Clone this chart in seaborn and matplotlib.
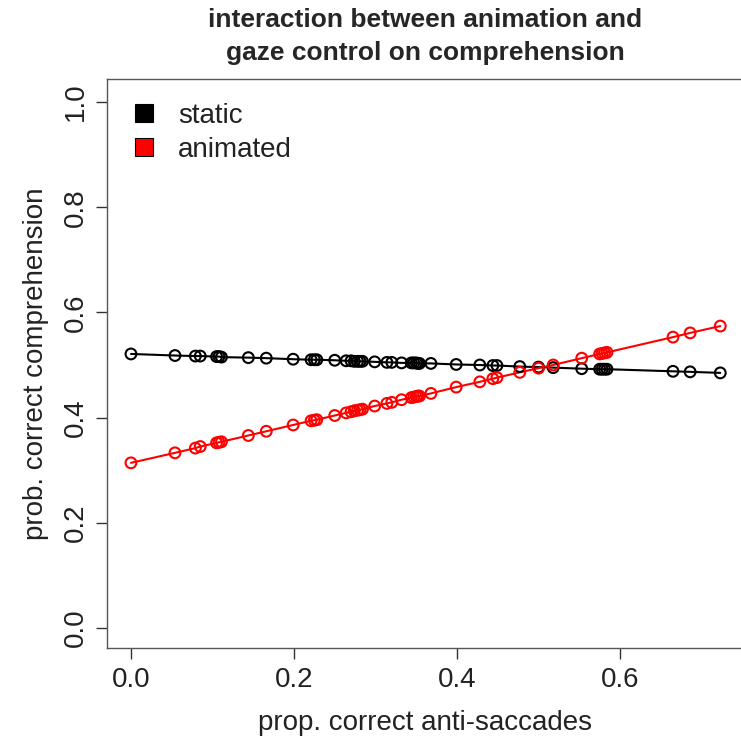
import matplotlib
matplotlib.use("Agg")
import matplotlib.pyplot as plt
from matplotlib.lines import Line2D
import seaborn as sns
import pandas as pd

# Data
anti_saccades = [0.0, 0.054, 0.079, 0.085, 0.105, 0.108, 0.111, 0.144, 0.166, 0.199,
                 0.221, 0.225, 0.228, 0.250, 0.264, 0.270, 0.274, 0.278, 0.281, 0.284,
                 0.299, 0.314, 0.320, 0.332, 0.344, 0.347, 0.350, 0.352, 0.354, 0.368,
                 0.399, 0.428, 0.444, 0.449, 0.477, 0.500, 0.518, 0.553, 0.575, 0.578,
                 0.581, 0.584, 0.665, 0.686, 0.723]
static_comp = [0.521, 0.518, 0.517, 0.517, 0.516, 0.516, 0.515, 0.514, 0.513, 0.511,
               0.510, 0.510, 0.510, 0.509, 0.508, 0.508, 0.507, 0.507, 0.507, 0.507,
               0.506, 0.505, 0.505, 0.504, 0.504, 0.504, 0.504, 0.503, 0.503, 0.503,
               0.501, 0.500, 0.499, 0.499, 0.497, 0.496, 0.495, 0.493, 0.492, 0.492,
               0.492, 0.492, 0.488, 0.487, 0.485]
animated_comp = [0.314, 0.333, 0.342, 0.345, 0.352, 0.353, 0.354, 0.366, 0.374, 0.386,
                 0.394, 0.395, 0.396, 0.404, 0.409, 0.411, 0.413, 0.414, 0.415, 0.416,
                 0.422, 0.427, 0.429, 0.434, 0.438, 0.439, 0.440, 0.441, 0.441, 0.446,
                 0.458, 0.468, 0.474, 0.476, 0.486, 0.494, 0.500, 0.513, 0.521, 0.522,
                 0.523, 0.524, 0.553, 0.561, 0.574]
conditions = ["static", "animated"]
colors = {"static": "black", "animated": "red"}
x_ticks = [0.0, 0.2, 0.4, 0.6]
y_ticks = [0.0, 0.2, 0.4, 0.6, 0.8, 1.0]

df = pd.concat([
    pd.DataFrame({"x": anti_saccades, "y": static_comp, "cond": "static"}),
    pd.DataFrame({"x": anti_saccades, "y": animated_comp, "cond": "animated"}),
], ignore_index=True)

sns.set_style("white")
plt.rcParams["font.family"] = ["Liberation Sans", "DejaVu Sans"]

W, H = 741, 738
fig = plt.figure(figsize=(W / 100, H / 100), dpi=100)
ax_left, ax_right, ax_top, ax_bottom = 107, 744, 79, 648
ax = fig.add_axes([ax_left / W, (H - ax_bottom) / H, (ax_right - ax_left) / W, (ax_bottom - ax_top) / H])

for c in conditions:
    sub = df[df["cond"] == c]
    sns.lineplot(data=sub, x="x", y="y", ax=ax, color=colors[c], lw=1.5,
                 estimator=None, sort=True, legend=False)
    sns.scatterplot(data=sub, x="x", y="y", ax=ax, facecolors="none",
                    edgecolor=colors[c], linewidth=1.5, s=60, legend=False, zorder=3)

ax.set_xlim(-0.0294, 0.7521)
ax.set_ylim(-0.038, 1.0437)
ax.set_xticks(x_ticks)
ax.set_xticklabels([f"{t:.1f}" for t in x_ticks])
ax.set_yticks(y_ticks)
ax.set_yticklabels([f"{t:.1f}" for t in y_ticks], rotation=90, va="center")
ax.tick_params(axis="both", which="both", direction="out", length=8, width=1,
               color="#333333", labelsize=20, labelcolor="#222222",
               bottom=True, left=True)
ax.tick_params(axis="x", pad=6)
ax.tick_params(axis="y", pad=5)
for sp in ax.spines.values():
    sp.set_color("#555555")
    sp.set_linewidth(1.0)
    sp.set_visible(True)

ax.set_xlabel("prop. correct anti-saccades", fontsize=20, color="#222222", labelpad=12)
ax.set_ylabel("prob. correct comprehension", fontsize=20, color="#222222", labelpad=10)

fig.text(425.5 / W, 1 - 36.5 / H, "interaction between animation and\ngaze control on comprehension",
         ha="center", va="center", fontsize=19, fontweight="bold", linespacing=1.45)

fs = 20
fs_px = fs * 100 / 72
handles = [Line2D([0], [0], marker="s", linestyle="none", markersize=13,
                  markerfacecolor=colors[c], markeredgecolor="black", markeredgewidth=0.8)
           for c in conditions]
anchor_x = (143.5 - fs_px / 2 - ax_left) / (ax_right - ax_left)
anchor_y = (ax_bottom - 103) / (ax_bottom - ax_top)
ax.legend(handles, conditions, loc="upper left", bbox_to_anchor=(anchor_x, anchor_y),
          frameon=False, fontsize=fs, handlelength=1.0,
          handletextpad=(178 - 143.5 - fs_px / 2) / fs_px, labelspacing=0.28,
          borderaxespad=0, borderpad=0, labelcolor="#222222")

fig.savefig("out.png", dpi=100)
